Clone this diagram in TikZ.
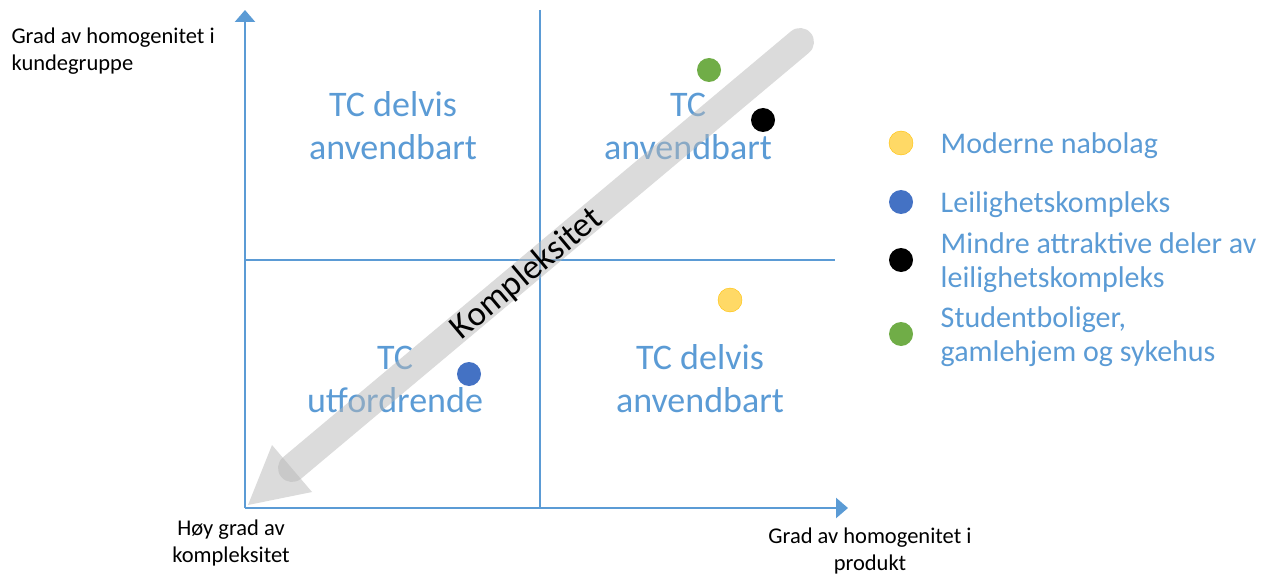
\documentclass[tikz,border=0pt]{standalone}
\usepackage{fontspec}
\setmainfont{Carlito}
\usepackage{tikz}
\usetikzlibrary{arrows.meta, positioning}
\definecolor{axisblue}{RGB}{91,155,213}
\definecolor{dotblue}{RGB}{68,114,196}
\definecolor{dotyellow}{RGB}{255,217,102}
\definecolor{dotorange}{RGB}{255,192,0}
\definecolor{dotgreen}{RGB}{112,173,71}
\definecolor{arrowgray}{RGB}{183,183,183}

\begin{document}
\begin{tikzpicture}[
    x=1pt, y=-1pt,
    axis/.style={line width=2.5pt, axisblue, -{Triangle[width=20pt, length=12pt]}},
    divider/.style={line width=2pt, axisblue},
    quad/.style={align=center, text=axisblue, font=\fontsize{36}{43}\selectfont},
    axlabel/.style={align=center, text=black, font=\fontsize{22.5}{27}\selectfont},
    legtext/.style={align=left, text=axisblue, font=\fontsize{30}{34.5}\selectfont, anchor=west, yshift=-2.5pt},
    dot/.style={circle, minimum size=24pt, inner sep=0pt},
    bigarrow/.style={arrowgray, opacity=0.5}
]
\useasboundingbox (0,0) rectangle (1267,575);

% Axes and quadrant lines
\coordinate (origin) at (245,508);
\coordinate (ytop) at (245,10);
\coordinate (xend) at (848,508);
\coordinate (vtop) at (540,10);
\coordinate (vbot) at (540,508);
\coordinate (hleft) at (245,260);
\coordinate (hright) at (835,260);
\draw[divider] (vtop) -- (vbot);
\draw[divider] (hleft) -- (hright);
\draw[axis] (origin) -- (ytop);
\draw[axis] (origin) -- (xend);

% Axis labels
\node[axlabel, align=left, anchor=west] (ylabel) at (8,51) {Grad av homogenitet i\\kundegruppe};
\node[axlabel] (olabel) at (231,543) {Høy grad av\\kompleksitet};
\node[axlabel] (xlabel) at (870,551) {Grad av homogenitet i\\produkt};

% Quadrants
\node[quad] (q1) at (393,126) {TC delvis\\anvendbart};
\node[quad] (q2) at (688,126) {TC\\anvendbart};
\node[quad] (q3) at (395,379) {TC\\utfordrende};
\node[quad] (q4) at (700,379) {TC delvis\\anvendbart};

% Complexity arrow
\coordinate (ktop) at (800,42);
\coordinate (kbase) at (292,468);
\coordinate (ktip) at (248,505);
\coordinate (kleft) at (272,445);
\coordinate (kright) at (312,492);
\draw[bigarrow, line width=28pt, line cap=round] (ktop) -- (kbase);
\fill[bigarrow] (ktip) -- (kleft) -- (kright) -- cycle;
\node[rotate=40, font=\fontsize{35}{40}\selectfont] (komp) at (527,274) {Kompleksitet};

% Data points
\node[dot, fill=dotgreen] (pgreen) at (709,70) {};
\node[dot, fill=black] (pblack) at (763,120) {};
\node[dot, fill=dotyellow, draw=dotorange, thin] (pyellow) at (730,300) {};
\node[dot, fill=dotblue] (pblue) at (469,374) {};

% Legend
\node[dot, fill=dotyellow, draw=dotorange, thin] (lyellow) at (901,143) {};
\node[dot, fill=dotblue] (lblue) at (901,202) {};
\node[dot, fill=black] (lblack) at (901,260) {};
\node[dot, fill=dotgreen] (lgreen) at (901,334) {};
\node[legtext, right=24pt of lyellow] (tyellow) {Moderne nabolag};
\node[legtext, right=24pt of lblue] (tblue) {Leilighetskompleks};
\node[legtext, right=24pt of lblack] (tblack) {Mindre attraktive deler av\\leilighetskompleks};
\node[legtext, right=24pt of lgreen] (tgreen) {Studentboliger,\\gamlehjem og sykehus};

\end{tikzpicture}
\end{document}
